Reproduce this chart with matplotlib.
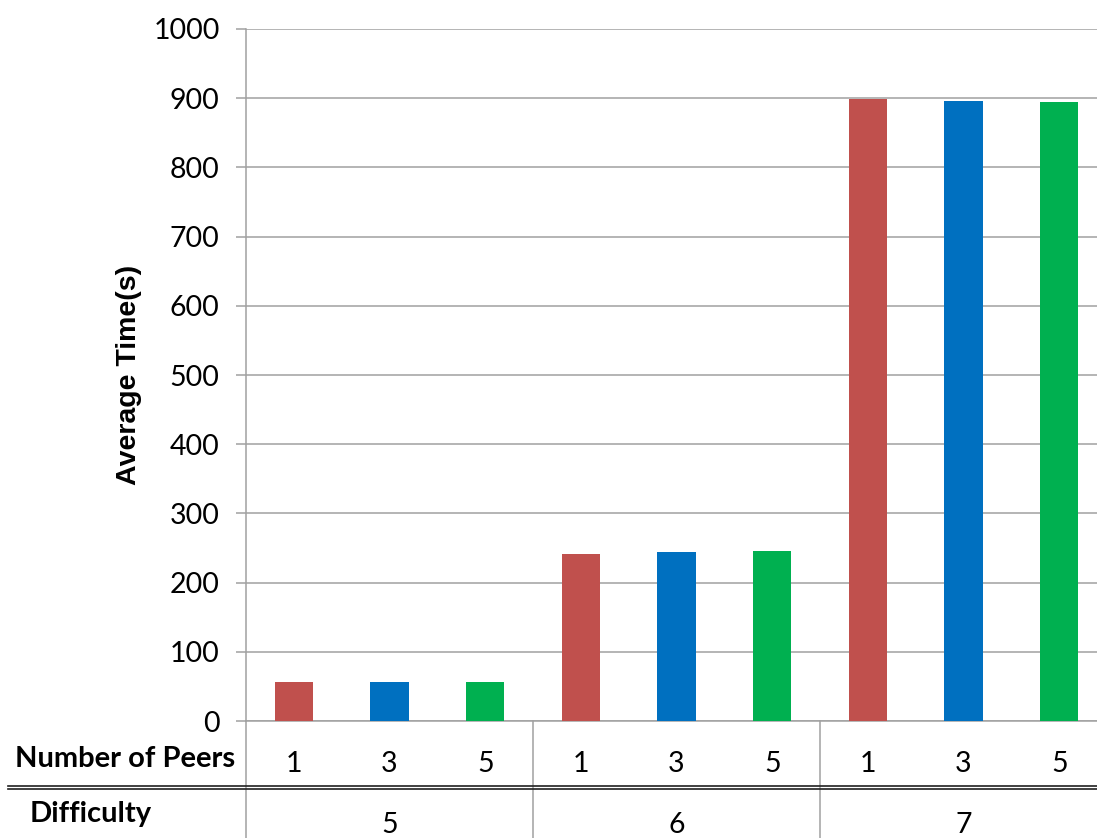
import matplotlib
matplotlib.use("Agg")
import matplotlib.pyplot as plt
from matplotlib.lines import Line2D

# Data
difficulty = ["5", "6", "7"]
peers = ["1", "3", "5"]
avg_time = {
    "1": [57, 241, 899],
    "3": [57, 244, 896],
    "5": [57, 246, 894],
}
colors = {"1": "#C0504D", "3": "#0070C0", "5": "#00B050"}
yticks = [0, 100, 200, 300, 400, 500, 600, 700, 800, 900, 1000]

W, H = 1097, 838
fig = plt.figure(figsize=(W / 100, H / 100), dpi=100)
# axes spans slightly past the right edge of the canvas
ax_l, ax_r, ax_top, ax_bot = 246, 1107, 29, 721
ax = fig.add_axes([ax_l / W, (H - ax_bot) / H, (ax_r - ax_l) / W, (ax_bot - ax_top) / H])

grid_c = "#A0A0A0"
tick_font = dict(family=["Lato", "DejaVu Sans"], size=20.5)

n_groups = len(difficulty)
n_peers = len(peers)
for g in range(n_groups):
    for j, p in enumerate(peers):
        x = g * n_peers + j
        ax.bar(x, avg_time[p][g], width=0.4, color=colors[p], zorder=3)

ax.set_xlim(-0.5, n_groups * n_peers - 0.5)
ax.set_ylim(0, 1000)
ax.set_yticks(yticks)
ax.set_yticklabels([str(t) for t in yticks], fontdict=tick_font)
ax.yaxis.grid(True, color=grid_c, linewidth=1.1, zorder=0)
ax.set_xticks([])
ax.tick_params(axis="y", length=7, width=1.1, color=grid_c, pad=12)
for s in ["top", "right"]:
    ax.spines[s].set_visible(False)
for s in ["left", "bottom"]:
    ax.spines[s].set_color(grid_c)
    ax.spines[s].set_linewidth(1.1)

ax.set_ylabel("Average Time(s)", fontsize=20.5, fontweight="bold",
              family=["Liberation Sans", "DejaVu Sans"], labelpad=8)

# Data table below the axis
xt = ax.get_xaxis_transform()
def yf(py):
    return -(py - ax_bot) / (ax_bot - ax_top)

# vertical separators
for b in [-0.5, 2.5, 5.5]:
    ax.add_line(Line2D([b, b], [0, yf(H)], transform=xt, color=grid_c,
                       linewidth=1.1, clip_on=False))

# number of peers row
for g in range(n_groups):
    for j, p in enumerate(peers):
        ax.text(g * n_peers + j, yf(764), p, transform=xt, ha="center",
                va="center", **tick_font)
# difficulty row
for g, d in enumerate(difficulty):
    ax.text(g * n_peers + 1, yf(825), d, transform=xt, ha="center",
            va="center", **tick_font)

fig.text(15 / W, 1 - 759 / H, "Number of Peers", ha="left", va="center",
         family=["Lato", "DejaVu Sans"], fontweight="bold", size=21)
fig.text(30 / W, 1 - 814 / H, "Difficulty", ha="left", va="center",
         family=["Lato", "DejaVu Sans"], fontweight="bold", size=21)

# double rule between the two rows
for py in [786, 788.5]:
    fig.add_artist(Line2D([8 / W, 1], [1 - py / H, 1 - py / H],
                          transform=fig.transFigure, color="#202020",
                          linewidth=1.2))

fig.savefig("out.png", dpi=100)
